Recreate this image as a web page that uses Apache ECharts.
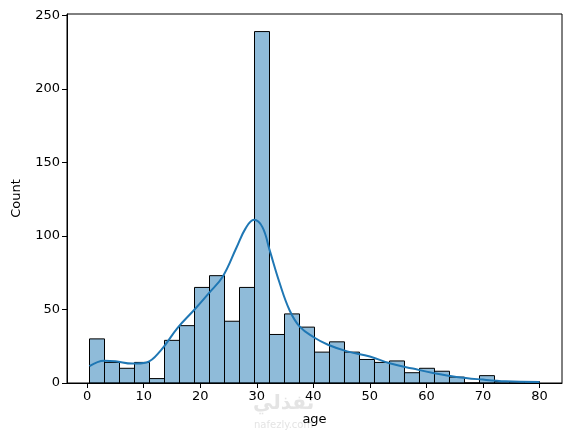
<!DOCTYPE html>
<html>
<head>
<meta charset="utf-8">
<script src="https://cdn.jsdelivr.net/npm/echarts@6/dist/echarts.min.js"></script>
<style>
    html, body { margin: 0; padding: 0; background: #fff; }
    #main { width: 571px; height: 436px; }
</style>
</head>
<body>
<div id="main"></div>
<script>
// histogram bins (age), 30 bins from 0.42 to 80
var binStart = 0.42;
var binEnd = 80;
var binCounts = [30, 14, 10, 14, 3, 29, 39, 65, 73, 42, 65, 239, 33, 47, 38, 21, 28, 21, 16, 14, 15, 7, 10, 8, 4, 0, 5, 1, 0, 1];

// kde curve
var kdeX = [0.42, 3, 5, 8, 10.5, 13, 16, 19, 21.5, 24, 26.4, 28, 29.5, 31, 32.3, 34, 35.8, 37.6, 40, 42.6, 46, 50, 53.5, 57.6, 61.2, 65.3, 70, 74, 80];
var kdeY = [11.5, 15.2, 14.8, 13.2, 14, 22, 37.5, 50, 61, 72.5, 92, 105, 111, 106, 90, 68.5, 49.5, 38.3, 31.3, 26, 21.5, 18, 13.4, 9.8, 6.8, 4.1, 2.3, 1.2, 0.7];

var xTicks = [0, 10, 20, 30, 40, 50, 60, 70, 80];
var yTicks = [0, 50, 100, 150, 200, 250];

var binWidth = (binEnd - binStart) / binCounts.length;
var barData = binCounts.map(function (c, i) {
    return [binStart + i * binWidth, binStart + (i + 1) * binWidth, c];
});
var kdeData = kdeX.map(function (x, i) {
    return [x, kdeY[i]];
});

var chart = echarts.init(document.getElementById('main'));
var font = 'DejaVu Sans';
var option = {
    animation: false,
    textStyle: { fontFamily: font },
    grid: {
        left: 67, right: 9, top: 14, bottom: 53,
        show: true,
        borderColor: '#000',
        borderWidth: 1,
        backgroundColor: 'transparent'
    },
    xAxis: {
        type: 'value',
        min: -3.56,
        max: 83.98,
        name: 'age',
        nameLocation: 'middle',
        nameGap: 30,
        nameTextStyle: { color: '#000', fontSize: 13, fontFamily: font },
        splitLine: { show: false },
        axisLine: { show: true, onZero: false, lineStyle: { color: '#000', width: 1 } },
        axisTick: { show: true, length: 5, customValues: xTicks, lineStyle: { color: '#000' } },
        axisLabel: { customValues: xTicks, color: '#000', fontSize: 13, margin: 7, fontFamily: font }
    },
    yAxis: {
        type: 'value',
        min: 0,
        max: 250.95,
        name: 'Count',
        nameLocation: 'middle',
        nameGap: 44,
        nameTextStyle: { color: '#000', fontSize: 13, fontFamily: font },
        splitLine: { show: false },
        axisLine: { show: true, onZero: false, lineStyle: { color: '#000', width: 1 } },
        axisTick: { show: true, length: 5, customValues: yTicks, lineStyle: { color: '#000' } },
        axisLabel: { customValues: yTicks, color: '#000', fontSize: 13, margin: 7, fontFamily: font }
    },
    series: [
        {
            name: 'hist',
            type: 'custom',
            data: barData,
            encode: { x: [0, 1], y: 2 },
            renderItem: function (params, api) {
                var p0 = api.coord([api.value(0), api.value(2)]);
                var p1 = api.coord([api.value(1), 0]);
                return {
                    type: 'rect',
                    shape: { x: p0[0], y: p0[1], width: p1[0] - p0[0], height: p1[1] - p0[1] },
                    style: { fill: 'rgba(31,119,180,0.5)', stroke: '#000', lineWidth: 1 }
                };
            }
        },
        {
            name: 'kde',
            type: 'line',
            data: kdeData,
            smooth: 0.4,
            showSymbol: false,
            lineStyle: { color: '#1f77b4', width: 2 },
            z: 5
        }
    ],
    graphic: [
        {
            type: 'text', left: 253, top: 394,
            style: { text: 'نفذلي', fill: '#e4e4e4', fontSize: 20, fontWeight: 'bold', fontFamily: 'DejaVu Sans' },
            z: -1
        },
        {
            type: 'text', left: 254, top: 420,
            style: { text: 'nafezly.com', fill: '#e4e4e4', fontSize: 10, fontFamily: 'DejaVu Sans' },
            z: -1
        }
    ]
};
chart.setOption(option);
</script>
</body>
</html>
